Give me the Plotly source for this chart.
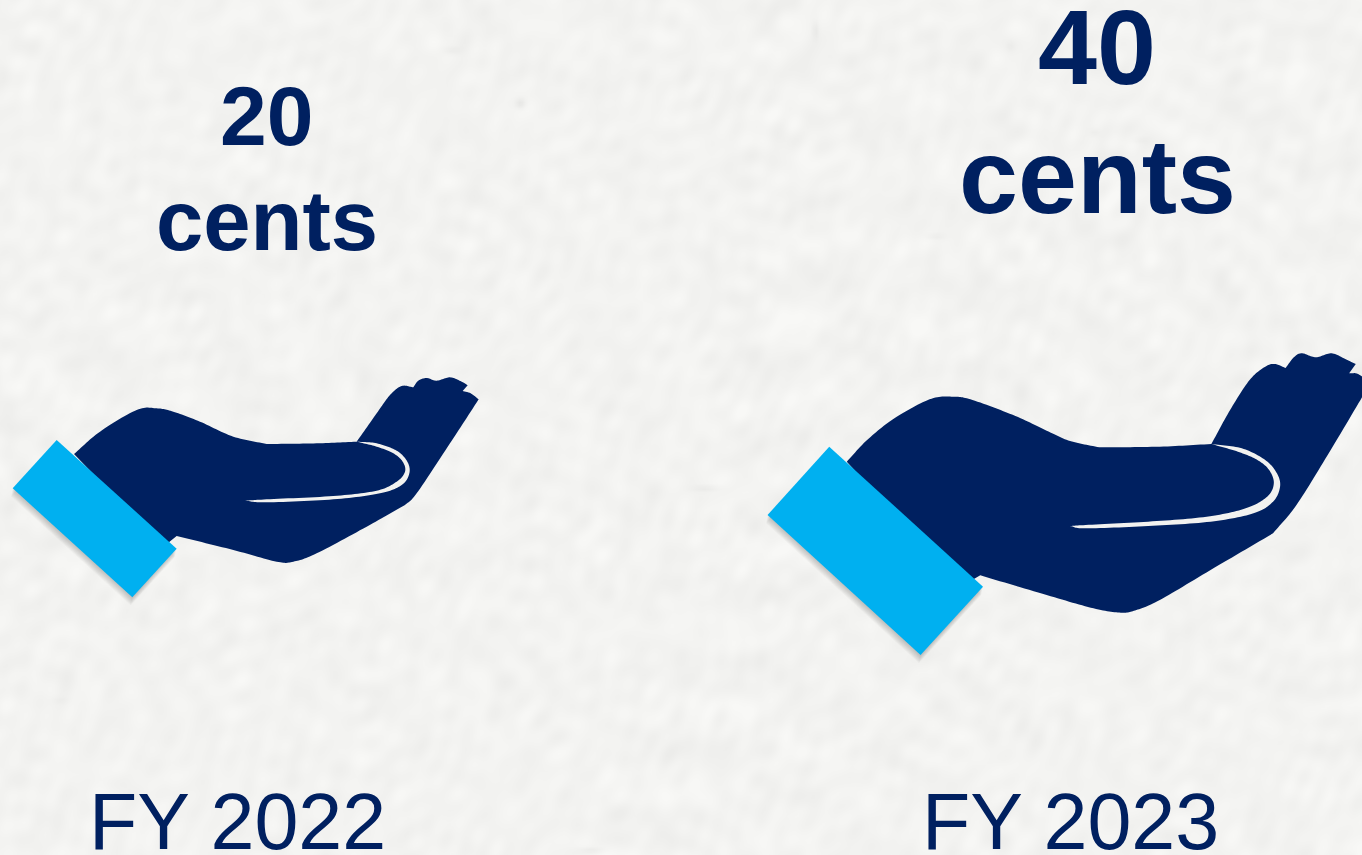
import numpy as np
import plotly.graph_objects as go

# Dividend per share by fiscal year
fiscal_years = ["FY 2022", "FY 2023"]
cents = [20, 40]
unit = "cents"

WIDTH, HEIGHT = 1362, 855
NAVY = "#002060"
CUFF_BLUE = "#00B0F0"
PAPER = "#f2f2f0"
PAPER_LIGHT = "#f8f8f6"
PAPER_DARK = "#d4d4d2"
FONT = "Liberation Sans, Arial, sans-serif"

# Pictogram outlines in local drawing units. Each inner list is a smooth run;
# corners occur where one run ends and the next begins.
HAND_2022 = {
    "origin": (0, 360), "scale": (3.0, 3.0),
    "outline": [
        [(222, 282), (300, 215), (410, 150), (470, 145), (520, 155), (600, 185), (700, 230), (800, 252)],
        [(800, 252), (950, 250), (1070, 245)],
        [(1070, 245), (1130, 160), (1170, 105), (1205, 78), (1240, 82)],
        [(1240, 82), (1255, 62), (1280, 54), (1310, 62), (1350, 52), (1385, 65), (1403, 76)],
        [(1403, 76), (1388, 93)],
        [(1388, 93), (1412, 100), (1436, 118)],
        [(1436, 118), (1350, 250), (1250, 400), (1215, 435)],
        [(1215, 435), (1100, 500), (950, 580), (880, 605), (830, 605), (700, 570), (530, 528)],
        [(530, 528), (490, 560)],
        [(490, 560), (222, 282)],
    ],
    "crease": [
        [(1070, 245), (1130, 250), (1190, 272), (1222, 305), (1228, 340), (1205, 375), (1140, 400),
         (1000, 418), (800, 427), (735, 422)],
        [(735, 422), (800, 418), (1000, 408), (1130, 392), (1190, 365), (1215, 335), (1208, 305),
         (1180, 280), (1130, 260), (1070, 245)],
    ],
    "cuff": [(170, 240), (530, 566), (397, 712), (38, 385)],
}

HAND_2023 = {
    "origin": (750, 340), "scale": (2.562, 3.0),
    "outline": [
        [(248, 365), (300, 300), (370, 235), (460, 178), (520, 170), (570, 180), (680, 228), (760, 272),
         (820, 303), (895, 322)],
        [(895, 322), (1050, 320), (1182, 312)],
        [(1182, 312), (1230, 210), (1280, 120), (1320, 80), (1345, 72), (1372, 84)],
        [(1372, 84), (1395, 50), (1415, 40), (1450, 52), (1490, 40), (1530, 60), (1552, 72)],
        [(1552, 72), (1535, 100)],
        [(1535, 100), (1558, 102), (1590, 130)],
        [(1590, 130), (1568, 172), (1480, 345), (1400, 495), (1340, 580)],
        [(1340, 580), (1180, 690), (1050, 780), (990, 810), (950, 818), (880, 805), (760, 765), (590, 706)],
        [(590, 706), (540, 740)],
        [(540, 740), (248, 365)],
    ],
    "crease": [
        [(1182, 312), (1260, 325), (1320, 360), (1350, 400), (1358, 440), (1340, 485), (1290, 520),
         (1180, 545), (1020, 558), (860, 565), (820, 558)],
        [(820, 558), (860, 555), (1020, 545), (1170, 530), (1270, 505), (1325, 470), (1342, 430),
         (1330, 390), (1300, 360), (1250, 335), (1182, 312)],
    ],
    "cuff": [(203, 320), (597, 740), (437, 945), (45, 525)],
}

# Darker flecks in the paper: centre x, centre y, radius x, radius y, strength
PAPER_FLECKS = [
    (520, 103, 5, 5, 14), (452, 50, 9, 4, 8), (815, 30, 3, 9, 9), (705, 488, 14, 3, 9),
    (935, 236, 10, 3, 7), (590, 850, 12, 3, 9), (1140, 140, 8, 3, 5), (60, 700, 8, 3, 4),
    (1094, 132, 5, 4, 6), (1010, 46, 4, 5, 5),
]


def catmull_rom(points, steps=14):
    """Dense polyline through the points of one smooth run."""
    p = np.array(points, dtype=float)
    if len(p) < 3:
        return p
    p = np.vstack([2 * p[0] - p[1], p, 2 * p[-1] - p[-2]])
    out = []
    for i in range(1, len(p) - 2):
        for t in np.linspace(0, 1, steps, endpoint=False):
            out.append(0.5 * (2 * p[i] + (p[i + 1] - p[i - 1]) * t
                              + (2 * p[i - 1] - 5 * p[i] + 4 * p[i + 1] - p[i + 2]) * t ** 2
                              + (3 * p[i] - p[i - 1] - 3 * p[i + 1] + p[i + 2]) * t ** 3))
    out.append(p[-2])
    return np.array(out)


def to_canvas(runs, hand):
    poly = np.vstack([catmull_rom(r) for r in runs])
    return (hand["origin"][0] + poly[:, 0] / hand["scale"][0],
            hand["origin"][1] + poly[:, 1] / hand["scale"][1])


def filled(x, y, color):
    return go.Scatter(x=np.append(x, x[0]), y=np.append(y, y[0]), mode="lines", fill="toself",
                      fillcolor=color, line=dict(width=0, simplify=False), hoverinfo="skip", showlegend=False)


def paper_texture():
    """Mottled paper built from interfering ripples, with a few darker flecks."""
    xs = np.arange(0, WIDTH + 3, 3.0)
    ys = np.arange(0, HEIGHT + 3, 3.0)
    gx, gy = np.meshgrid(xs, ys)
    z = np.zeros_like(gx)
    for i in range(1, 71):
        angle = i * 2.39996
        freq = 0.05 + 0.26 * ((i * 0.61803) % 1) ** 1.5
        warp = 9 * np.sin(gx * 0.023 * np.cos(i) + gy * 0.019 * np.sin(i) + i)
        z += np.sin((gx * np.cos(angle) + gy * np.sin(angle) + warp) * freq + i * 1.3)
    z = 242.5 + z / np.sqrt(70 / 2) * 1.9
    for cx, cy, rx, ry, strength in PAPER_FLECKS:
        z -= strength * np.exp(-((gx - cx) / rx) ** 2 - ((gy - cy) / ry) ** 2)
    return go.Heatmap(x=xs, y=ys, z=z, zmin=210, zmax=248, zsmooth="best", showscale=False,
                      hoverinfo="skip", colorscale=[[0, PAPER_DARK], [1, PAPER_LIGHT]])


fig = go.Figure()
fig.add_trace(paper_texture())

for hand in (HAND_2022, HAND_2023):
    cuff_x = hand["origin"][0] + np.array([c[0] for c in hand["cuff"]]) / hand["scale"][0]
    cuff_y = hand["origin"][1] + np.array([c[1] for c in hand["cuff"]]) / hand["scale"][1]
    # Soft drop shadow falling below the cuff, darkest right at its edge
    for drop in range(8, 0, -1):
        fig.add_trace(filled(cuff_x - 0.2 * drop, cuff_y + drop, "rgba(70,70,70,0.04)"))
    fig.add_trace(filled(*to_canvas(hand["outline"], hand), NAVY))
    fig.add_trace(filled(*to_canvas(hand["crease"], hand), PAPER))
    fig.add_trace(filled(cuff_x, cuff_y, CUFF_BLUE))

# Value and year labels, one block per fiscal year
label_layout = [
    dict(x=266.5, value_y=116, unit_y=220, value_size=84, unit_size=85, year_x=237.5),
    dict(x=1097, value_y=47, unit_y=176, value_size=106, unit_size=106, year_x=1070.5),
]
annotations = []
for year, value, spot in zip(fiscal_years, cents, label_layout):
    for text, y, size in ((f"{value}", spot["value_y"], spot["value_size"]),
                          (unit, spot["unit_y"], spot["unit_size"])):
        annotations.append(dict(x=spot["x"], y=y, text=f"<b>{text}</b>", showarrow=False, xanchor="center",
                                yanchor="middle", font=dict(family=FONT, size=size, color=NAVY)))
    annotations.append(dict(x=spot["year_x"], y=821.5, text=year, showarrow=False, xanchor="center",
                            yanchor="middle", font=dict(family=FONT, size=79, color=NAVY)))

fig.update_layout(
    width=WIDTH, height=HEIGHT, margin=dict(l=0, r=0, t=0, b=0),
    paper_bgcolor=PAPER, plot_bgcolor=PAPER, showlegend=False, annotations=annotations,
    xaxis=dict(range=[0, WIDTH], visible=False, fixedrange=True),
    yaxis=dict(range=[HEIGHT, 0], visible=False, fixedrange=True),
)
fig.write_html("out.html", config=dict(displayModeBar=False))
